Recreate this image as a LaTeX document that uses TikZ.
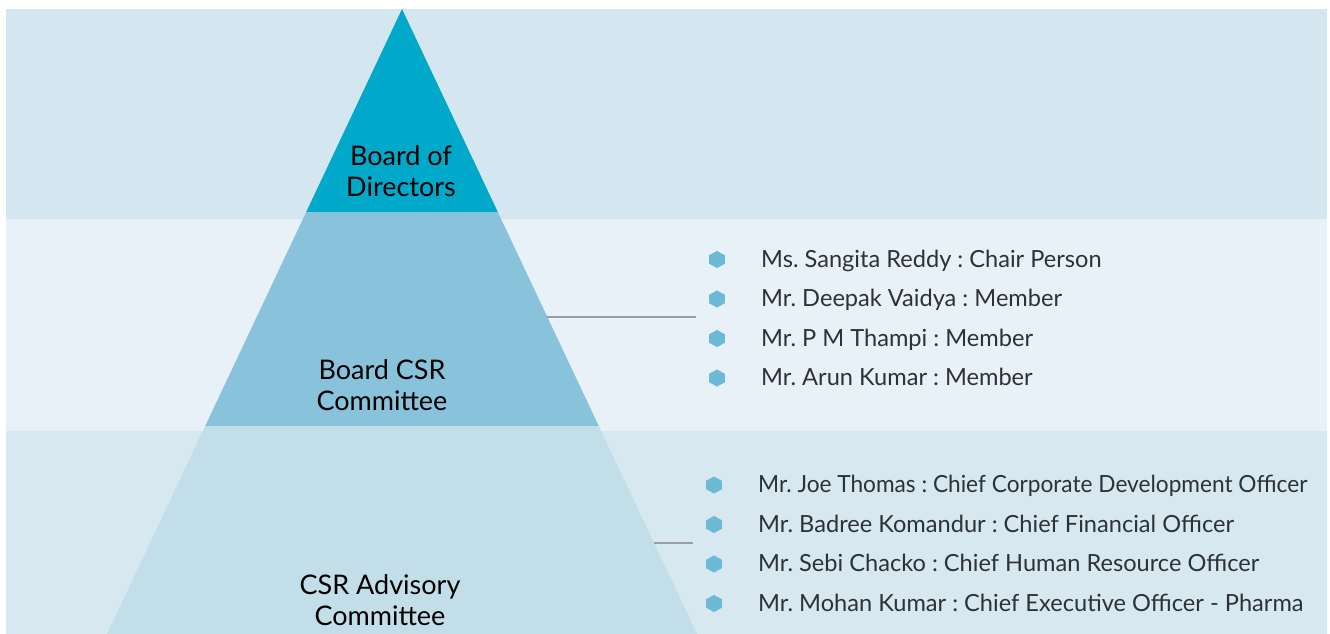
\documentclass[tikz,border=0pt]{standalone}
\usepackage{fontspec}
\setmainfont{Lato}
\usetikzlibrary{shapes.geometric}
\definecolor{bandA}{HTML}{D4E6EF}
\definecolor{bandB}{HTML}{E8F1F7}
\definecolor{bandC}{HTML}{D7E8F0}
\definecolor{tierA}{HTML}{00A9C9}
\definecolor{tierB}{HTML}{88C2DB}
\definecolor{tierC}{HTML}{C2DFE9}
\definecolor{bulletc}{HTML}{6CBAD6}
\definecolor{listtext}{HTML}{2D3236}
\definecolor{linkc}{HTML}{9A9EA3}
\frenchspacing
\tikzset{
  tierlabel/.style={align=center, font=\fontsize{27}{31.5}\selectfont, text=black, inner sep=0pt},
  listitem/.style={anchor=base west, text=listtext, inner sep=0pt, font=\fontsize{23.6}{26}\selectfont},
  bulletmark/.style={regular polygon, regular polygon sides=6, shape border rotate=30, fill=bulletc, draw=none, minimum size=18pt, inner sep=0pt, yscale=0.95},
  linkline/.style={draw=linkc, line width=1.4pt}
}
\begin{document}
\begin{tikzpicture}[x=1pt,y=-1pt]
\useasboundingbox (0,0) rectangle (1330,634);
\fill[white] (0,0) rectangle (1330,634);
% bands
\fill[bandA] (6,9) rectangle (1327,219);
\fill[bandB] (6,219) rectangle (1327,431);
\fill[bandC] (6,431) rectangle (1327,634);
% pyramid tiers
\fill[tierA] (402,9) -- (497.8,212) -- (306.2,212) -- cycle;
\fill[tierB] (306.2,212) -- (497.8,212) -- (598.8,426) -- (205.2,426) -- cycle;
\fill[tierC] (205.2,426) -- (598.8,426) -- (697,634) -- (107,634) -- cycle;
% labels
\node[tierlabel] (bod) at (401,171) {Board of\\Directors};
\node[tierlabel] (bcsr) at (382,385) {Board CSR\\Committee};
\node[tierlabel] (adv) at (380,600) {CSR Advisory\\Committee};
% connectors
\coordinate (m1) at (547.4,317);
\coordinate (m2) at (696,317);
\coordinate (b1) at (654,543);
\coordinate (b2) at (693,543);
\draw[linkline] (m1) -- (m2);
\draw[linkline] (b1) -- (b2);
% middle list
\foreach \i/\yb/\t in {1/267/{Ms. Sangita Reddy : Chair Person},
                       2/306.5/{Mr. Deepak Vaidya : Member},
                       3/346/{Mr. P M Thampi : Member},
                       4/385.5/{Mr. Arun Kumar : Member}}{
  \node[bulletmark] (mb\i) at (717,\yb-7.5) {};
  \node[listitem] (mt\i) at (761,\yb) {\t};
}
% bottom list
\foreach \i/\yb/\t in {1/492.5/{\scalebox{0.96}[1]{Mr. Joe Thomas : Chief Corporate Development Officer}},
                       2/532/{Mr. Badree Komandur : Chief Financial Officer},
                       3/571.5/{Mr. Sebi Chacko : Chief Human Resource Officer},
                       4/611/{Mr. Mohan Kumar : Chief Executive Officer - Pharma}}{
  \node[bulletmark] (bb\i) at (714,\yb-7.5) {};
  \node[listitem] (bt\i) at (758,\yb) {\t};
}
\end{tikzpicture}
\end{document}
